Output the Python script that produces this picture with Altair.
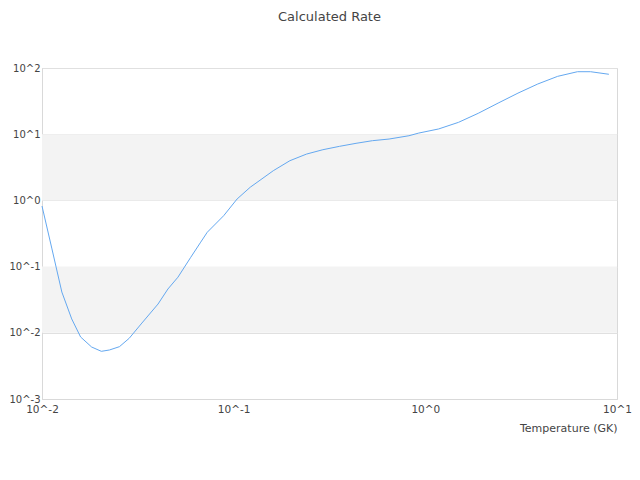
import altair as alt
import pandas as pd

temperature = [0.01, 0.01127, 0.01269, 0.01429, 0.0159, 0.01815, 0.0204, 0.02248,
               0.02535, 0.02851, 0.0329, 0.0403, 0.0454, 0.0512, 0.0597, 0.0673,
               0.0728, 0.0887, 0.1042, 0.122, 0.161, 0.1965, 0.24, 0.292, 0.357,
               0.435, 0.53, 0.647, 0.821, 0.924, 1.173, 1.489, 1.889, 2.397, 3.042,
               3.86, 4.9, 6.22, 7.28, 9.07]
rate = [0.822, 0.185, 0.0413, 0.0162, 0.00865, 0.0061, 0.00525, 0.0055,
        0.00617, 0.00826, 0.0136, 0.0272, 0.0459, 0.0692, 0.138, 0.234,
        0.33, 0.587, 1.05, 1.58, 2.81, 3.98, 5.01, 5.83, 6.56,
        7.28, 7.98, 8.45, 9.48, 10.4, 12.0, 15.1, 20.7, 29.5, 41.7,
        57.3, 74.8, 87.9, 87.9, 80.4]

band_low = [0.01, 1]
band_high = [0.1, 10]

y_ticks = [0.001, 0.01, 0.1, 1, 10, 100]
x_ticks = [0.01, 0.1, 1, 10]

curve = pd.DataFrame({"T": temperature, "rate": rate})
bands = pd.DataFrame({"lo": band_low, "hi": band_high})

W, H = 575, 331
label_expr = "'10^' + round(log(datum.value) / LN10)"

yscale = alt.Scale(type="log", domain=[0.001, 100], nice=False)
xscale = alt.Scale(type="log", domain=[0.01, 10], nice=False)

band_layer = alt.Chart(bands).mark_rect(color="#f3f3f3").encode(
    x=alt.value(0),
    x2=alt.value(W),
    y=alt.Y("lo:Q", scale=yscale, title=None),
    y2="hi:Q",
)

line_layer = alt.Chart(curve).mark_line(color="#64a8f0", strokeWidth=1).encode(
    x=alt.X("T:Q", scale=xscale,
            axis=alt.Axis(values=x_ticks, labelExpr=label_expr, grid=False, ticks=False,
                          domainColor="#d9d9d9", labelFontSize=10.5, labelColor="#444444",
                          labelPadding=5, labelFont="DejaVu Sans",
                          title="Temperature (GK)", titleAnchor="end", titleAlign="right",
                          titleFont="DejaVu Sans", titleFontSize=11, titleFontWeight="normal",
                          titleColor="#444444", titlePadding=8, labelFlush=False)),
    y=alt.Y("rate:Q", scale=yscale,
            axis=alt.Axis(values=y_ticks, labelExpr=label_expr, grid=True, gridColor="#e0e0e0",
                          ticks=False, domainColor="#d9d9d9", labelFontSize=10,
                          labelColor="#444444", labelPadding=2, labelFont="DejaVu Sans",
                          title=None)),
)

chart = alt.layer(band_layer, line_layer).properties(
    width=W, height=H,
    title=alt.TitleParams("Calculated Rate", fontSize=13, font="DejaVu Sans",
                          fontWeight="normal", color="#444444", offset=39, anchor="middle"),
    padding={"left": 0, "top": 3, "right": 0, "bottom": 5},
).configure_view(stroke="#d9d9d9")

chart.save("out.html", embed_options={"renderer": "svg", "actions": False})
